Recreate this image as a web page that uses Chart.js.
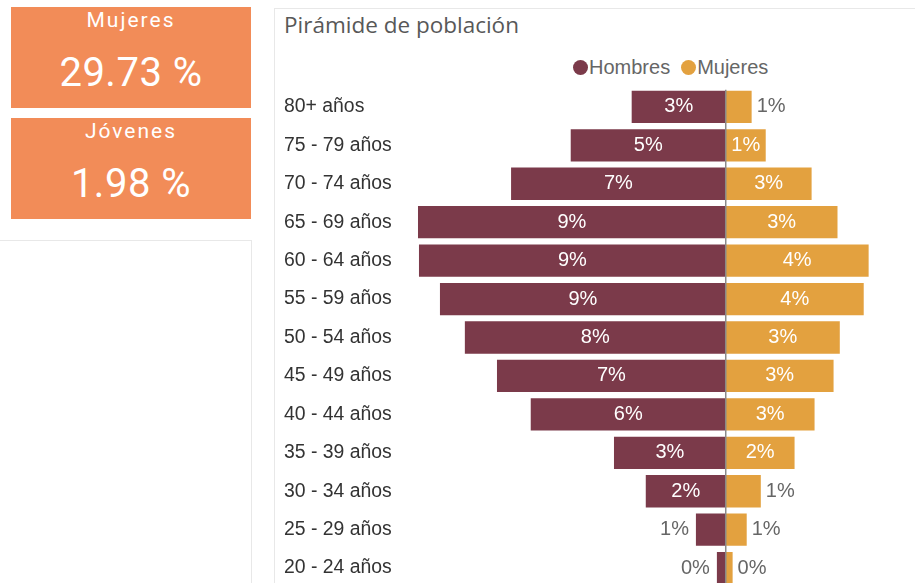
<!DOCTYPE html>
<html>
<head>
<meta charset="utf-8">
<script src="https://cdn.jsdelivr.net/npm/chart.js@4.4.0/dist/chart.umd.min.js"></script>
<style>
  body{margin:0;background:#fff;width:915px;height:583px;overflow:hidden;position:relative;font-family:"Liberation Sans",Arial,sans-serif;}
  .card{position:absolute;left:11px;width:240px;height:101px;background:#F28C58;color:#fff;font-family:Roboto,sans-serif;text-align:center;}
  .card .lbl{position:absolute;left:0;right:0;top:2px;height:22px;line-height:22px;font-size:21px;letter-spacing:2px;}
  .card .val{position:absolute;left:0;right:0;top:46px;height:40px;line-height:40px;font-size:40px;letter-spacing:0.5px;}
  .panelL{position:absolute;left:-1px;top:240px;width:251px;height:400px;border:1px solid #e8e8e8;}
  .panelR{position:absolute;left:274px;top:8px;width:700px;height:700px;border:1px solid #e8e8e8;}
  .title{position:absolute;left:284px;top:9px;font-family:"Open Sans",sans-serif;font-size:22.5px;color:#585858;line-height:32px;}
  .legend{position:absolute;left:573px;top:55px;font-size:20px;line-height:24px;color:#666;white-space:nowrap;}
  .legend span.dot{display:inline-block;width:15px;height:15px;border-radius:50%;vertical-align:-1px;margin-right:1px;}
  .legend span.item{margin-right:11px;}
  #wrap{position:absolute;left:276px;top:73px;width:639px;height:529px;}
</style>
</head>
<body>
<div class="card" style="top:7px"><div class="lbl">Mujeres</div><div class="val">29.73 %</div></div>
<div class="card" style="top:118px"><div class="lbl">Jóvenes</div><div class="val">1.98 %</div></div>
<div class="panelL"></div>
<div class="panelR"></div>
<div class="title">Pirámide de población</div>
<div class="legend"><span class="item"><span class="dot" style="background:#7B3A4A"></span>Hombres</span><span class="item"><span class="dot" style="background:#E3A13F"></span>Mujeres</span></div>
<div id="wrap"><canvas id="myChart"></canvas></div>
<script>
const categories = ["80+ años","75 - 79 años","70 - 74 años","65 - 69 años","60 - 64 años","55 - 59 años","50 - 54 años","45 - 49 años","40 - 44 años","35 - 39 años","30 - 34 años","25 - 29 años","20 - 24 años"];
const hombres = [2.87,4.73,6.55,9.39,9.36,8.72,7.96,6.98,5.95,3.41,2.44,0.91,0.27];
const mujeres = [0.79,1.22,2.62,3.41,4.36,4.21,3.48,3.29,2.71,2.10,1.07,0.64,0.21];

const colorH = '#7B3A4A';
const colorM = '#E3A13F';

// labels on bars + centre line
const barLabels = {
  id: 'barLabels',
  afterDatasetsDraw(chart) {
    const c = chart.ctx;
    const xs = chart.scales.x;
    const area = chart.chartArea;
    const x0 = xs.getPixelForValue(0);
    c.save();
    c.strokeStyle = '#8a8a8a';
    c.lineWidth = 1.5;
    c.beginPath();
    c.moveTo(x0, area.top + 2);
    c.lineTo(x0, area.bottom);
    c.stroke();
    c.font = '20px "Liberation Sans", Arial, sans-serif';
    c.textBaseline = 'middle';
    chart.data.datasets.forEach((ds, di) => {
      const meta = chart.getDatasetMeta(di);
      meta.data.forEach((bar, i) => {
        const v = Math.abs(ds.data[i]);
        const txt = Math.round(v) + '%';
        const w = Math.abs(bar.x - bar.base);
        if (w >= 38) {
          c.fillStyle = '#fff';
          c.textAlign = 'center';
          c.fillText(txt, (bar.x + bar.base) / 2, bar.y);
        } else {
          c.fillStyle = '#666';
          if (di === 0) {
            c.textAlign = 'right';
            c.fillText(txt, Math.min(bar.x, bar.base) - 7, bar.y);
          } else {
            c.textAlign = 'left';
            c.fillText(txt, Math.max(bar.x, bar.base) + 5, bar.y);
          }
        }
      });
    });
    c.restore();
  }
};

const ctx = document.getElementById('myChart');
new Chart(ctx, {
  type: 'bar',
  data: {
    labels: categories,
    datasets: [{
      label: 'Hombres',
      data: hombres.map(v => -v),
      backgroundColor: colorH,
      barPercentage: 0.84,
      categoryPercentage: 1
    }, {
      label: 'Mujeres',
      data: mujeres,
      backgroundColor: colorM,
      barPercentage: 0.84,
      categoryPercentage: 1
    }]
  },
  options: {
    indexAxis: 'y',
    responsive: true,
    maintainAspectRatio: false,
    animation: false,
    layout: { padding: { left: 8, right: 9, top: 6, bottom: 4 } },
    plugins: {
      legend: { display: false },
      tooltip: { enabled: false }
    },
    scales: {
      x: {
        display: false,
        stacked: true,
        min: -10,
        max: 5.5
      },
      y: {
        stacked: true,
        grid: { display: false },
        border: { display: false },
        afterFit(scale) { scale.width = 114; },
        ticks: {
          crossAlign: 'far',
          color: '#333',
          font: { size: 19.4, family: '"Liberation Sans", Arial, sans-serif' }
        }
      }
    }
  },
  plugins: [barLabels]
});
</script>
</body>
</html>
